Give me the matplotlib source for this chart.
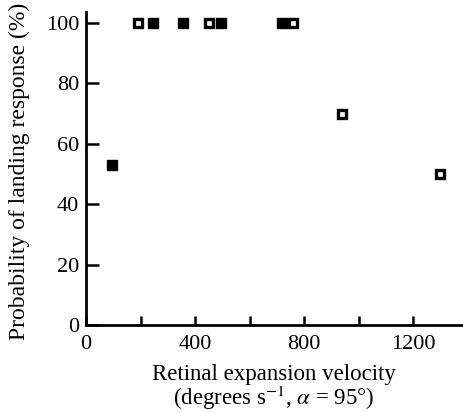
import matplotlib
matplotlib.use("Agg")
import matplotlib.pyplot as plt

plt.rcParams['font.family'] = ['Liberation Serif', 'DejaVu Serif']
plt.rcParams['mathtext.fontset'] = 'stix'

# open squares
open_x = [190, 450, 760, 940, 1300]
open_y = [100, 100, 100, 70, 50]
# filled squares
filled_x = [95, 245, 355, 495, 720]
filled_y = [53, 100, 100, 100, 100]

x_ticks = [0, 200, 400, 600, 800, 1000, 1200]
x_labels = ['0', '', '400', '', '800', '', '1200']
y_ticks = [0, 20, 40, 60, 80, 100]

fig = plt.figure(figsize=(4.63, 4.13), dpi=100)
ax = fig.add_axes([0.186, 0.213, 0.812, 0.758])

ax.plot(open_x, open_y, 's', markersize=6.3, markerfacecolor='white',
        markeredgecolor='black', markeredgewidth=2.4, clip_on=False)
ax.plot(filled_x, filled_y, 's', markersize=7.5, color='black', clip_on=False)

ax.set_xlim(0, 1380)
ax.set_ylim(0, 103.6)
ax.set_xticks(x_ticks)
ax.set_xticklabels(x_labels)
ax.set_yticks(y_ticks)

for s in ['top', 'right']:
    ax.spines[s].set_visible(False)
for s in ['left', 'bottom']:
    ax.spines[s].set_linewidth(2.0)

ax.tick_params(direction='in', width=1.8, labelsize=16)
ax.tick_params(axis='y', length=9, pad=5)
ax.tick_params(axis='x', length=6.5, pad=7)

ax.set_ylabel('Probability of landing response (%)', fontsize=17)
ax.set_xlabel('Retinal expansion velocity\n(degrees s$^{-1}$, $\\alpha$ = 95°)',
              fontsize=16.5, linespacing=0.92)
ax.xaxis.set_label_coords(0.5, -0.125)
ax.yaxis.set_label_coords(-0.15, 0.49)

plt.savefig('out.png', dpi=100)
